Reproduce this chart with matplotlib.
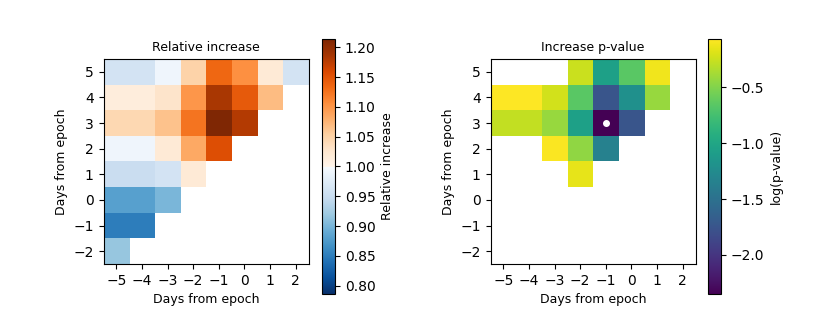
import numpy as np
import matplotlib
matplotlib.use('Agg')
import matplotlib.pyplot as plt
from matplotlib.colors import LinearSegmentedColormap

nan = np.nan

days_x = [-5, -4, -3, -2, -1, 0, 1, 2]
days_y = [5, 4, 3, 2, 1, 0, -1, -2]   # rows listed top to bottom

# relative increase, one row per day_y (top row = 5)
rel_increase = [
    [0.96, 0.96, 0.99, 1.05, 1.135, 1.105, 1.02, 0.96],
    [1.015, 1.015, 1.03, 1.10, 1.185, 1.145, 1.07, nan],
    [1.045, 1.045, 1.065, 1.125, 1.214, 1.18, nan, nan],
    [0.99, 0.99, 1.02, 1.085, 1.155, nan, nan, nan],
    [0.95, 0.95, 0.96, 1.02, nan, nan, nan, nan],
    [0.88, 0.88, 0.90, nan, nan, nan, nan, nan],
    [0.85, 0.85, nan, nan, nan, nan, nan, nan],
    [0.915, nan, nan, nan, nan, nan, nan, nan],
]

# log10 of p-value for the increase
log_pval = [
    [nan, nan, nan, -0.25, -1.05, -0.65, -0.12, nan],
    [-0.07, -0.07, -0.22, -0.65, -1.75, -1.2, -0.42, nan],
    [-0.28, -0.28, -0.42, -1.05, -2.35, -1.75, nan, nan],
    [nan, nan, -0.08, -0.45, -1.35, nan, nan, nan],
    [nan, nan, nan, -0.15, nan, nan, nan, nan],
    [nan, nan, nan, nan, nan, nan, nan, nan],
    [nan, nan, nan, nan, nan, nan, nan, nan],
    [nan, nan, nan, nan, nan, nan, nan, nan],
]

best_x, best_y = -1, 3

rel = np.array(rel_increase)
lp = np.array(log_pval)

# blue below 1, orange above 1
cols = np.vstack([plt.cm.Blues_r(np.linspace(0, 1, 128)),
                  plt.cm.Oranges(np.linspace(0, 1, 128))])
cmap_rel = LinearSegmentedColormap.from_list('blue_orange', cols)

extent = [days_x[0] - 0.5, days_x[-1] + 0.5, days_y[-1] - 0.5, days_y[0] + 0.5]
vmax = np.nanmax(rel)
vmin = 2 - vmax

fig = plt.figure(figsize=(8.3, 3.2), dpi=100)

ax1 = fig.add_axes([103/830, 1 - 264/320, 206/830, 205/320])
cax1 = fig.add_axes([322/830, 1 - 294/320, 13/830, 255/320])
ax2 = fig.add_axes([490/830, 1 - 264/320, 206/830, 205/320])
cax2 = fig.add_axes([708/830, 1 - 294/320, 13/830, 255/320])

im1 = ax1.imshow(rel, cmap=cmap_rel, vmin=vmin, vmax=vmax, extent=extent,
                 interpolation='nearest')
cb1 = fig.colorbar(im1, cax=cax1)
cb1.set_ticks(np.arange(0.80, 1.201, 0.05))
cb1.set_label('Relative increase', fontsize=9)
ax1.set_title('Relative increase', fontsize=9)

im2 = ax2.imshow(lp, cmap='viridis', vmin=np.nanmin(lp), vmax=np.nanmax(lp) + 0.003,
                 extent=extent, interpolation='nearest')
ax2.plot([best_x], [best_y], 'o', color='white', markersize=4)
cb2 = fig.colorbar(im2, cax=cax2)
cb2.set_ticks([-2.0, -1.5, -1.0, -0.5])
cb2.set_label('log(p-value)', fontsize=9)
ax2.set_title('Increase p-value', fontsize=9)

for ax in (ax1, ax2):
    ax.set_xticks(days_x)
    ax.set_yticks(days_y)
    ax.set_xlim(extent[0], extent[1])
    ax.set_ylim(extent[2], extent[3])
    ax.set_xlabel('Days from epoch', fontsize=9)
    ax.set_ylabel('Days from epoch', fontsize=9)

plt.savefig('out.png')
